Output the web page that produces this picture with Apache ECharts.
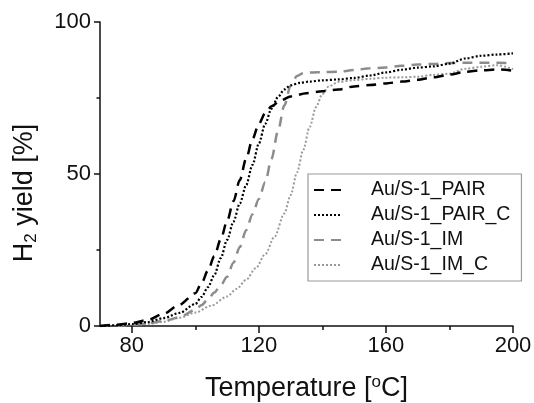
<!DOCTYPE html>
<html>
<head>
<meta charset="utf-8">
<script src="https://cdn.jsdelivr.net/npm/echarts@6/dist/echarts.min.js"></script>
<style>html,body{margin:0;padding:0;background:#fff}#c{width:534px;height:403px}</style>
</head>
<body>
<div id="c"></div>
<script>
var seriesNames = ['Au/S-1_PAIR', 'Au/S-1_PAIR_C', 'Au/S-1_IM', 'Au/S-1_IM_C'];

var tempPAIR = [70,75,80,85,90,95,100,102,104,106,108,110,112,114,116,118,120,122,124,127,130,135,140,145,150,155,160,165,170,175,180,185,190,195,200];
var yieldPAIR = [0,0.4,1,2,4,7,10.8,14.2,18.3,23,28.5,34.5,41,48,55,61.5,66.5,70,72.3,74.3,75.5,76.6,77.2,77.8,78.8,79.3,79.8,80.4,81,81.8,82.7,83.6,84.1,84.4,84];

var tempPAIRC = [70,75,80,85,90,95,100,102,104,106,108,110,112,114,116,118,120,122,124,126,128,130,133,136,140,145,150,155,160,165,170,175,180,185,190,195,200];
var yieldPAIRC = [0,0.2,0.6,1.3,2.6,4.3,7.2,9.6,12.8,16.8,22.3,28.3,34.3,40.3,46.3,53,60,66.5,71.5,75.3,77.8,79.2,80,80.4,80.8,81.1,81.6,82.4,83.4,84.3,85,85.4,86.3,88,88.9,89.3,89.7];

var tempIM = [70,75,80,85,90,95,100,102,104,106,108,110,112,114,116,118,120,122,124,126,128,130,132,134,137,140,145,150,155,160,165,170,175,180,185,190,195,200];
var yieldIM = [0,0.1,0.4,0.9,1.6,2.9,5.3,6.9,8.8,11,13.4,16.2,20.8,26,31.5,36.8,41.8,47.3,55,64,72.5,79,82.2,83.2,83.4,83.5,83.6,84.2,84.8,85,85.6,86,86.2,86.5,86.6,86.6,86.6,86.5];

var tempIMC = [70,75,80,85,90,95,100,105,110,113,116,119,122,125,128,130,132,134,136,138,140,142,145,150,155,160,165,170,175,180,185,190,195,200];
var yieldIMC = [0,0.1,0.3,0.7,1.4,2.7,4.4,6.7,9.7,12.2,15.2,19,23.6,29.5,37,43,50.5,58,65.5,72,76.3,78.8,80.3,80.9,81.3,81.7,81.8,82,82.6,83,84.6,85.3,85.8,84.5];

var xLabelValues = [80,120,160,200];
var xMinorValues = [100,140,180];
var yLabelValues = [0,50,100];

function pairs(xs, ys){ return xs.map(function(x,i){ return [x, ys[i]]; }); }

var FONT = '"Liberation Sans", Arial, Helvetica, sans-serif';
var styles = [
  {color:'#000000', width:2.5, type:[10,7]},
  {color:'#000000', width:2.2, type:[2,2]},
  {color:'#8c8c8c', width:2.5, type:[10,7]},
  {color:'#9a9a9a', width:2, type:[2,2]}
];
var datasets = [pairs(tempPAIR,yieldPAIR), pairs(tempPAIRC,yieldPAIRC), pairs(tempIM,yieldIM), pairs(tempIMC,yieldIMC)];

var chart = echarts.init(document.getElementById('c'), null, {renderer:'canvas'});
chart.setOption({
  animation:false,
  backgroundColor:'#fff',
  grid:{left:100, right:21, top:22, bottom:77, containLabel:false, outerBoundsMode:'none'},
  legend:{
    orient:'vertical', left:308, top:174,
    padding:[6,11,6,5],
    borderColor:'#9a9a9a', borderWidth:1.2, borderRadius:0,
    itemWidth:27, itemHeight:14, itemGap:5,
    itemStyle:{opacity:0},
    textStyle:{fontFamily:FONT, fontSize:19.5, color:'#111', lineHeight:20, padding:[0,0,0,25]},
    data: seriesNames
  },
  xAxis:[{
    type:'value', min:70, max:200,
    name:'{a|Temperature [}{s|o}{a|C]}',
    nameLocation:'middle', nameGap:48,
    nameTextStyle:{rich:{
      a:{fontFamily:FONT, fontSize:27, color:'#111', lineHeight:30},
      s:{fontFamily:FONT, fontSize:17, color:'#111', verticalAlign:'top', lineHeight:30, padding:[0,0,12,0]}
    }},
    axisLine:{show:true, onZero:false, lineStyle:{color:'#111', width:1.5}},
    axisTick:{show:true, customValues:xLabelValues, length:7, lineStyle:{color:'#111', width:1.5}},
    axisLabel:{customValues:xLabelValues, fontFamily:FONT, fontSize:22, color:'#111', margin:9},
    splitLine:{show:false}
  },{
    type:'value', min:70, max:200, position:'bottom',
    axisLine:{show:false},
    axisTick:{show:true, customValues:xMinorValues, length:4, lineStyle:{color:'#111', width:1.5}},
    axisLabel:{show:false},
    splitLine:{show:false}
  }],
  yAxis:{
    type:'value', min:0, max:100, interval:50,
    name:'{a|H}{b|2}{a| yield [%]}',
    nameLocation:'middle', nameGap:60,
    nameTextStyle:{padding:[0,38,0,0], rich:{
      a:{fontFamily:FONT, fontSize:27, color:'#111', lineHeight:30},
      b:{fontFamily:FONT, fontSize:17, color:'#111', verticalAlign:'bottom', lineHeight:30, padding:[10,0,0,0]}
    }},
    axisLine:{show:true, onZero:false, lineStyle:{color:'#111', width:1.5}},
    axisTick:{show:true, length:6, lineStyle:{color:'#111', width:1.5}},
    minorTick:{show:true, splitNumber:2, length:3.5, lineStyle:{color:'#111', width:1.5}},
    axisLabel:{customValues:yLabelValues, fontFamily:FONT, fontSize:22, color:'#111', margin:9},
    splitLine:{show:false}, minorSplitLine:{show:false}
  },
  series: seriesNames.map(function(n,i){
    return {
      name:n, type:'line', data:datasets[i], symbol:'none', showSymbol:false,
      smooth:0.3, smoothMonotone:'x',
      lineStyle:{color:styles[i].color, width:styles[i].width, type:styles[i].type},
      itemStyle:{color:styles[i].color},
      z: 10-i
    };
  })
});
</script>
</body>
</html>
